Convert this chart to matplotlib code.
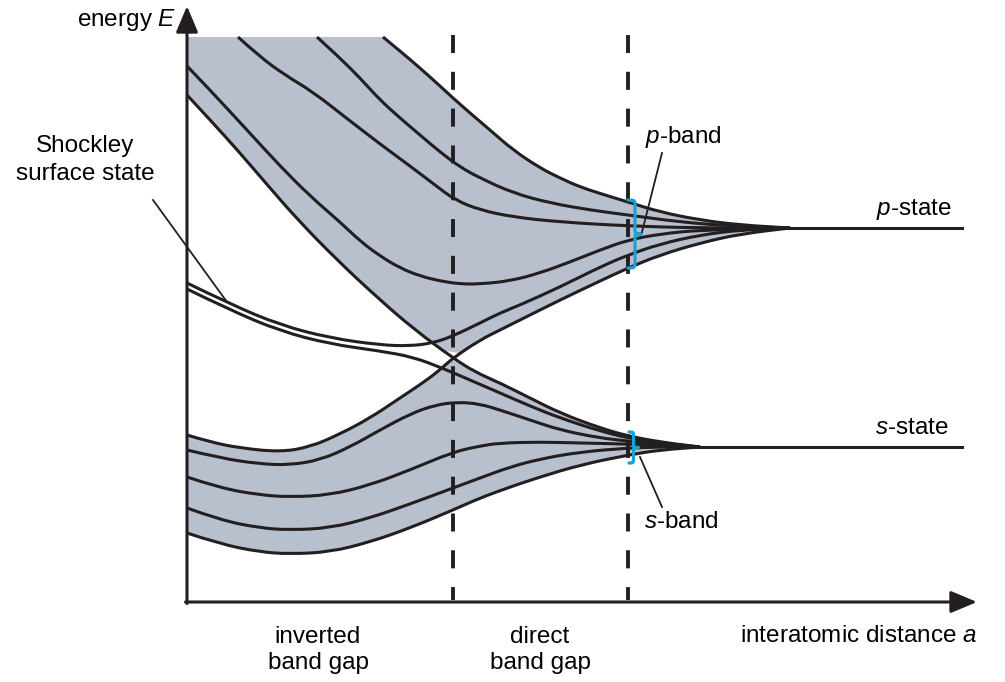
import numpy as np
import matplotlib
matplotlib.use("Agg")
import matplotlib.pyplot as plt
from matplotlib.path import Path
from matplotlib.patches import PathPatch, Polygon

plt.rcParams['font.family'] = ['Liberation Sans', 'DejaVu Sans']
plt.rcParams['mathtext.fontset'] = 'custom'
plt.rcParams['mathtext.rm'] = 'Liberation Sans'
plt.rcParams['mathtext.it'] = 'Liberation Sans:italic'
plt.rcParams['lines.scale_dashes'] = False

# ---- band curves: interatomic distance a (arb. units) vs energy E (arb. units) ----
BAND_TOP = 565

# p-band upper boundary
p1_a = [196, 213, 233, 253, 266, 283, 303, 326, 353, 373, 393, 418, 441, 473, 513, 553, 603]
p1_E = [565, 551, 534, 516, 504, 489, 472, 452, 434, 424, 415, 407, 400, 390, 382, 377, 374]
# inner p-band levels
p2_a = [130, 153, 173, 193, 213, 233, 253, 273, 293, 326, 363, 403, 441, 493, 543, 603]
p2_E = [565, 544, 524, 502, 484, 467, 450, 435, 424, 409, 399, 392, 387, 380, 376, 374]
p3_a = [51, 73, 98, 126, 158, 193, 223, 248, 268, 293, 326, 373, 441, 513, 603]
p3_E = [565, 545, 527, 510, 485, 458, 436, 417, 402, 392, 385, 380, 376, 374, 374]
p4_a = [0, 23, 60, 93, 123, 153, 173, 193, 213, 233, 253, 273, 293, 323, 353, 383, 413, 441, 473, 513, 603]
p4_E = [536, 512, 472, 436, 406, 380, 361, 346, 334, 326, 321, 318, 318, 321, 329, 340, 352, 362, 368, 372, 374]
# lower p-band edge at small a, continuing as upper s-band edge at large a
pa_a = [0, 26, 53, 83, 111, 150, 193, 228, 266, 288, 313, 343, 373, 413, 441, 473, 513]
pa_E = [507, 479, 449, 414, 382, 342, 302, 272, 244, 230, 219, 204, 189, 174, 166, 160, 155]
# upper s-band edge at small a, continuing as lower p-band edge at large a
sb_a = [0, 23, 53, 93, 123, 153, 183, 210, 240, 255, 266, 293, 313, 333, 373, 413, 441, 473, 513, 553, 603]
sb_E = [167, 160, 154, 150, 155, 168, 184, 202, 222, 234, 244, 262, 272, 282, 302, 321, 334, 347, 359, 368, 374]
# Shockley surface state (pair of levels)
su_a = [0, 43, 93, 143, 193, 223, 246, 266, 293, 313, 333, 373, 413, 441, 473, 513, 553, 603]
su_E = [319, 298, 277, 264, 257, 256, 259, 266, 279, 289, 297, 315, 335, 347, 358, 367, 372, 374]
sl_a = [0, 43, 93, 143, 193, 226, 255, 283, 313, 343, 373, 413, 441, 473, 513]
sl_E = [313, 292, 271, 258, 251, 245, 234, 222, 209, 196, 184, 171, 164, 159, 155]
# inner s-band levels
s2_a = [0, 33, 73, 103, 133, 163, 193, 223, 248, 271, 293, 313, 343, 373, 413, 441, 473, 513]
s2_E = [152, 144, 138, 137, 142, 155, 172, 188, 197, 200, 198, 192, 182, 172, 164, 161, 157, 155]
s3_a = [0, 33, 73, 103, 143, 183, 223, 266, 293, 313, 353, 393, 441, 473, 513]
s3_E = [125, 114, 107, 105, 107, 117, 132, 150, 156, 159, 160, 159, 158, 156, 155]
s4_a = [0, 33, 73, 103, 143, 183, 223, 266, 293, 323, 353, 393, 441, 473, 513]
s4_E = [94, 82, 74, 72, 74, 84, 98, 114, 124, 135, 143, 150, 154, 155, 155]
# s-band lower boundary
s5_a = [0, 33, 73, 103, 143, 183, 223, 266, 293, 323, 353, 393, 441, 473, 513]
s5_E = [69, 58, 50, 48, 50, 60, 74, 92, 104, 115, 125, 137, 147, 152, 155]

# atomic levels
P_STATE_E, P_STATE_A = 374, [603, 775]
S_STATE_E, S_STATE_A = 155, [513, 775]
CROSS_A = 266           # band crossing / boundary inverted-direct gap
DIRECT_END_A = 441      # boundary direct gap - separated levels

INK = '#231f20'
BAND_FILL = '#b8c0cd'
BRACE = '#1ba1d9'
FS = 17.5


def smooth(xs, ys):
    """Quadratic B-spline through the given control points, flattened by matplotlib."""
    pts = list(zip(xs, ys))
    verts, codes = [pts[0]], [Path.MOVETO]
    for i in range(1, len(pts) - 1):
        mid = ((pts[i][0] + pts[i + 1][0]) / 2, (pts[i][1] + pts[i + 1][1]) / 2)
        verts += [pts[i], mid]
        codes += [Path.CURVE3, Path.CURVE3]
    verts.append(pts[-1])
    codes.append(Path.LINETO)
    return Path(verts, codes).to_polygons(closed_only=False)[0]


fig = plt.figure(figsize=(10.05, 6.82), dpi=100)
ax = fig.add_axes([187 / 1005, 80 / 682, 788 / 1005, 584 / 682])
ax.set_xlim(0, 788)
ax.set_ylim(0, 584)
ax.axis('off')

P1 = smooth(p1_a, p1_E)
PA = smooth(pa_a, pa_E)
SB = smooth(sb_a, sb_E)
S5 = smooth(s5_a, s5_E)

# ---- shaded bands ----
a_hi, a_lo = PA[PA[:, 0] <= CROSS_A], PA[PA[:, 0] >= CROSS_A]
b_lo, b_hi = SB[SB[:, 0] <= CROSS_A], SB[SB[:, 0] >= CROSS_A]
p_poly = np.vstack([[[0, BAND_TOP]], P1, b_hi[::-1], a_hi[::-1]])
s_poly = np.vstack([b_lo, a_lo, S5[::-1]])
ax.add_patch(Polygon(p_poly, closed=True, fc=BAND_FILL, ec='none', zorder=1))
ax.add_patch(Polygon(s_poly, closed=True, fc=BAND_FILL, ec='none', zorder=1))

# ---- dashed boundaries ----
for xa in (CROSS_A, DIRECT_END_A):
    ax.plot([xa, xa], [567, 2], color=INK, lw=2.8, ls=(0, (13, 13.5)), zorder=2)

# ---- band levels ----
curves = [(p1_a, p1_E), (p2_a, p2_E), (p3_a, p3_E), (p4_a, p4_E), (pa_a, pa_E),
          (sb_a, sb_E), (s2_a, s2_E), (s3_a, s3_E), (s4_a, s4_E), (s5_a, s5_E),
          (su_a, su_E), (sl_a, sl_E)]
for xs, ys in curves:
    c = smooth(xs, ys)
    ax.plot(c[:, 0], c[:, 1], color=INK, lw=2.2, solid_joinstyle='round',
            solid_capstyle='butt', zorder=3)

ax.plot(P_STATE_A, [P_STATE_E] * 2, color=INK, lw=2.2, zorder=3)
ax.plot(S_STATE_A, [S_STATE_E] * 2, color=INK, lw=2.2, zorder=3)

# ---- axes with arrow heads ----
arrow = dict(arrowstyle='-|>,head_length=1.0,head_width=0.42', mutation_scale=16,
             lw=2.2, color=INK, shrinkA=0, shrinkB=0)
ax.annotate('', xy=(0, 596), xytext=(0, -1.5), arrowprops=arrow, annotation_clip=False)
ax.annotate('', xy=(790, 0), xytext=(-1.5, 0), arrowprops=arrow, annotation_clip=False)


# ---- curly braces marking band widths ----
def brace(x0, lo, hi, w, hw, q):
    mid = (lo + hi) / 2
    verts = [(x0, hi),
             (x0 + hw, hi), (x0 + hw, hi), (x0 + hw, hi - q),
             (x0 + hw, mid + q),
             (x0 + hw, mid), (x0 + hw, mid), (x0 + w, mid),
             (x0 + hw, mid), (x0 + hw, mid), (x0 + hw, mid - q),
             (x0 + hw, lo + q),
             (x0 + hw, lo), (x0 + hw, lo), (x0, lo)]
    codes = [Path.MOVETO] + [Path.CURVE4] * 3 + [Path.LINETO] + [Path.CURVE4] * 6 + \
            [Path.LINETO] + [Path.CURVE4] * 3
    ax.add_patch(PathPatch(Path(verts, codes), fc='none', ec=BRACE, lw=2.3,
                           capstyle='round', joinstyle='round', zorder=5))


brace(DIRECT_END_A, 334, 402, 13, 7, 8)
brace(DIRECT_END_A + 1, 139, 170, 9, 4.5, 5)

# ---- leader lines ----
lead = dict(color=INK, lw=1.3, zorder=5, clip_on=False)
ax.plot([-34, 40], [402, 300], **lead)
ax.plot([475, 455], [449, 370], **lead)
ax.plot([453, 475], [145, 95], **lead)

# ---- labels ----
ax.text(-11, 582, r'energy $E$', fontsize=FS, ha='right', va='center')
ax.text(-102, 442, 'Shockley\nsurface state', fontsize=FS, ha='center', va='center',
        multialignment='center', linespacing=1.3)
ax.text(496, 465, r'$p$-band', fontsize=FS, ha='center', va='center')
ax.text(727, 392, r'$p$-state', fontsize=FS, ha='center', va='center')
ax.text(725, 174, r'$s$-state', fontsize=FS, ha='center', va='center')
ax.text(494, 80, r'$s$-band', fontsize=FS, ha='center', va='center')
ax.text(131, -48, 'inverted\nband gap', fontsize=FS, ha='center', va='center',
        multialignment='center', linespacing=1.2)
ax.text(353, -48, 'direct\nband gap', fontsize=FS, ha='center', va='center',
        multialignment='center', linespacing=1.2)
ax.text(790, -34, r'interatomic distance $a$', fontsize=FS, ha='right', va='center')

fig.savefig('out.png', dpi=100)
